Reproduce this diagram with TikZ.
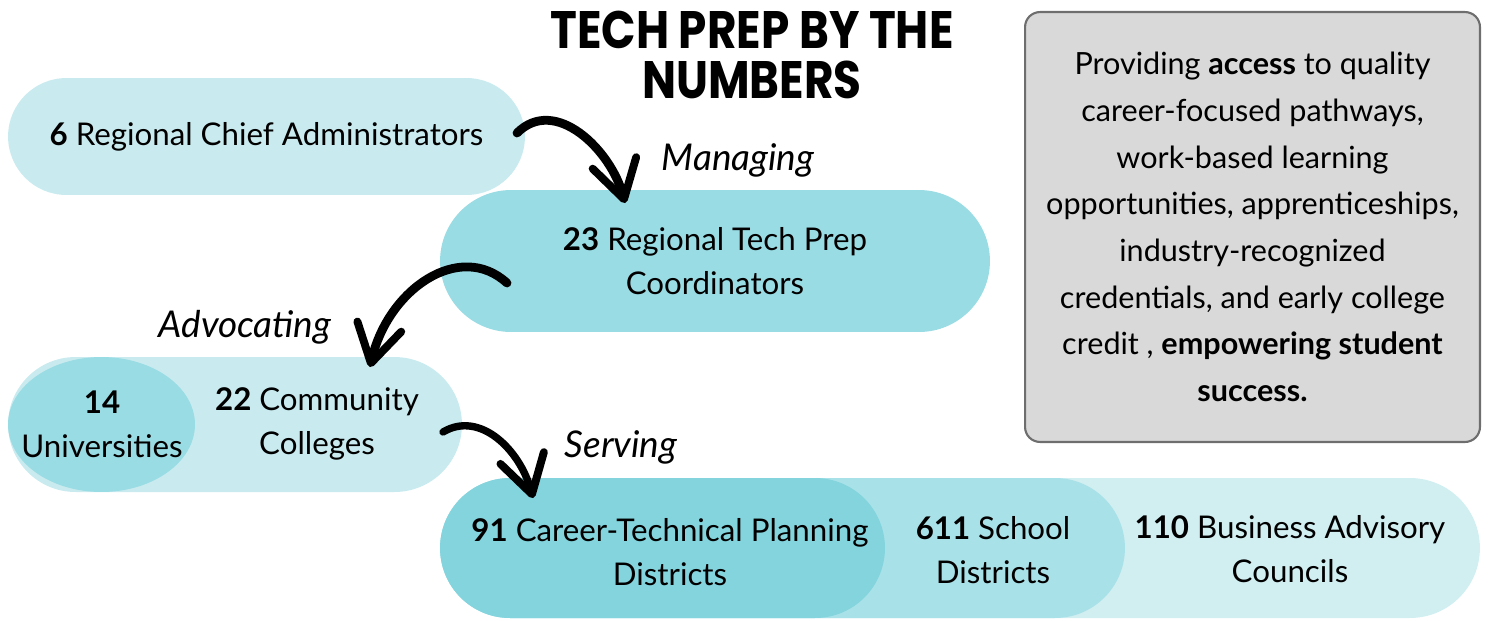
\documentclass[tikz,border=0pt]{standalone}
\usepackage{fontspec}
\setmainfont{Lato}
\newfontfamily\titlefont{Poppins}[FakeStretch=0.86]
\usetikzlibrary{shapes, arrows.meta, positioning}
\definecolor{tealLight}{HTML}{C9EBEF}
\definecolor{tealMid}{HTML}{9ADCE4}
\definecolor{tealDark}{HTML}{83D4DD}
\definecolor{boxGray}{HTML}{D9D9D9}
\definecolor{boxEdge}{HTML}{6E6E6E}

\begin{document}
\begin{tikzpicture}[x=0.02cm, y=-0.02cm,
  pill/.style={rounded rectangle, inner sep=0pt, minimum height=2.8cm},
  txt/.style={align=center, font=\fontsize{17.8}{25}\selectfont},
  verb/.style={font=\itshape\fontsize{21}{22}\selectfont},
  brush/.style={line width=5pt, line cap=round, -{Straight Barb[round, length=0.75cm, width=0.9cm, line width=4.5pt]}}]
  \useasboundingbox (0,0) rectangle (1490,620);

  % Titel
  \node[align=center, font=\titlefont\bfseries\fontsize{30}{28}\selectfont] (title) at (752,55) {TECH PREP BY THE\\NUMBERS};

  % Obere Ebenen
  \node[pill, fill=tealLight, minimum width=10.34cm, minimum height=2.34cm, txt] (chief) at (266.5,136.5) {{\bfseries 6} Regional Chief Administrators};
  \node[pill, fill=tealMid, minimum width=11cm, minimum height=2.84cm, txt] (coord) at (715,261) {{\bfseries 23} Regional Tech Prep\\Coordinators};

  % Hochschulen
  \node[pill, fill=tealLight, minimum width=9.08cm, minimum height=2.7cm] (cc) at (235,424.5) {};
  \node[ellipse, fill=tealMid, inner sep=0pt, minimum width=3.74cm, minimum height=2.7cm] (univ) at (101.5,424.5) {};
  \node[txt] (univtxt) at (102,424) {{\bfseries 14}\\Universities};
  \node[txt] (cctxt) at (317,424) {{\bfseries 22} Community\\Colleges};

  % Untere Ebene
  \node[pill, fill=tealLight!85!white, minimum width=20.8cm] (bac) at (960,548) {};
  \node[pill, fill=tealMid!85!white, minimum width=13.7cm] (sd) at (782.5,548) {};
  \node[pill, fill=tealDark, minimum width=8.9cm] (ctpd) at (662.5,548) {};
  \node[txt] (ctpdtxt) at (670,552) {{\bfseries 91} Career-Technical Planning\\Districts};
  \node[txt] (sdtxt) at (993,550) {{\bfseries 611} School\\Districts};
  \node[txt] (bactxt) at (1290,549) {{\bfseries 110} Business Advisory\\Councils};

  % Infobox
  \node[draw=boxEdge, line width=1.2pt, fill=boxGray, rounded corners=0.3cm, minimum width=9.1cm, minimum height=8.6cm, align=center, font=\fontsize{17.4}{26.6}\selectfont] (info) at (1252.5,227) {Providing \textbf{access} to quality\\career-focused pathways,\\work-based learning\\opportunities, apprenticeships,\\industry-recognized\\credentials, and early college\\credit , \textbf{empowering student}\\\textbf{success.}};

  % Pfeile
  \coordinate (m0) at (517,133);
  \coordinate (m1) at (625,203);
  \coordinate (a0) at (507,283);
  \coordinate (a1) at (370,367);
  \coordinate (s0) at (443,432);
  \coordinate (s1) at (533,498);
  \draw[brush] (m0) .. controls (555,95) and (611,150) .. (m1);
  \draw[brush] (a0) .. controls (460,240) and (388,289) .. (a1);
  \draw[brush, line width=4.2pt] (s0) .. controls (480,410) and (520,450) .. (s1);
  \node[verb] (managing) at (738,160) {Managing};
  \node[verb] (advocating) at (245,327) {Advocating};
  \node[verb] (serving) at (621,447) {Serving};
\end{tikzpicture}
\end{document}
